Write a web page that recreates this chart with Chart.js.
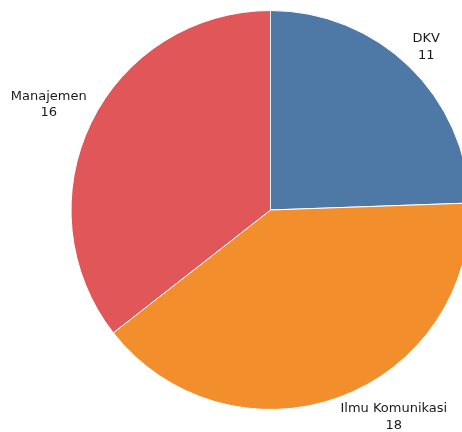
<!DOCTYPE html>
<html>
<head>
<meta charset="utf-8">
<script src="https://cdn.jsdelivr.net/npm/chart.js@4.4.0/dist/chart.umd.min.js"></script>
<style>
  html, body { margin: 0; padding: 0; background: #ffffff; overflow: hidden; }
  #wrap { width: 462px; height: 432px; overflow: hidden; position: relative; }
  #pie { position: absolute; left: 0; top: 0; }
</style>
</head>
<body>
<div id="wrap"><canvas id="pie" width="541" height="432"></canvas></div>
<script>
const jurusan = ['DKV', 'Ilmu Komunikasi', 'Manajemen'];
const jumlah = [11, 18, 16];
const warna = ['#4e79a7', '#f28e2b', '#e15759'];

const fontLabel = '13px "DejaVu Sans"';
const jarakLabel = 5;
const tinggiHuruf = 10;
const jarakBaris = 16.5;
const bawahLabel = 4;

// sudut kotak label yang paling dekat ke pusat diletakkan di sudut tengah irisan
const labelLuar = {
    id: 'labelLuar',
    afterDraw(chart) {
        const ctx = chart.ctx;
        const meta = chart.getDatasetMeta(0);
        ctx.save();
        ctx.font = fontLabel;
        ctx.fillStyle = '#1a1a1a';
        ctx.textAlign = 'center';
        ctx.textBaseline = 'alphabetic';
        meta.data.forEach((arc, i) => {
            const p = arc.getProps(['x', 'y', 'startAngle', 'endAngle', 'outerRadius'], true);
            const mid = (p.startAngle + p.endAngle) / 2;
            const r = p.outerRadius + jarakLabel;
            const ax = p.x + Math.cos(mid) * r;
            const ay = p.y + Math.sin(mid) * r;
            const baris = [jurusan[i], String(jumlah[i])];
            const lebar = Math.max(...baris.map(b => ctx.measureText(b).width));
            const tinggi = tinggiHuruf + jarakBaris + bawahLabel;
            const kiri = Math.cos(mid) >= 0 ? ax : ax - lebar;
            const atas = Math.sin(mid) >= 0 ? ay : ay - tinggi;
            ctx.fillText(baris[0], kiri + lebar / 2, atas + tinggiHuruf);
            ctx.fillText(baris[1], kiri + lebar / 2, atas + tinggiHuruf + jarakBaris);
        });
        ctx.restore();
    }
};

new Chart(document.getElementById('pie'), {
    type: 'pie',
    data: {
        labels: jurusan,
        datasets: [{
            data: jumlah,
            backgroundColor: warna,
            borderColor: '#ffffff',
            borderWidth: 1,
            hoverOffset: 0
        }]
    },
    options: {
        responsive: false,
        animation: false,
        layout: { padding: { top: 10, bottom: 22 } },
        plugins: {
            legend: { display: false },
            tooltip: { enabled: false }
        }
    },
    plugins: [labelLuar]
});
</script>
</body>
</html>
